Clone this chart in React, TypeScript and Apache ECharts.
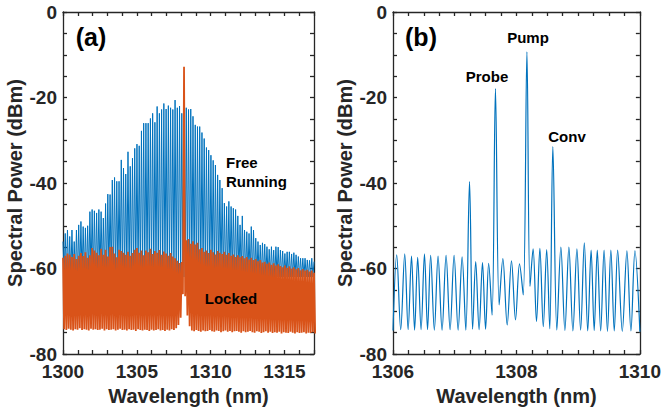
import React, { useEffect, useRef } from "react";
import * as echarts from "echarts";

// ---------- Panel (a): free running vs locked, 1300–1317 nm ----------
const A_X_MIN = 1300;
const A_X_MAX = 1317;
const A_START = 1300; // wavelength of first mode (nm)
const A_MODE_SPACING = 0.1518; // nm between plotted modes

// Free-running peak heights (dBm), one per mode
const freeRunningPeaks = [
  -53.7, -51.8, -51.0, -52.5, -51.0, -53.7, -51.0, -49.8, -49.0, -50.2, -50.5, -50.0,
  -46.7, -46.2, -46.5, -47.0, -46.2, -46.7, -48.2, -44.8, -42.6, -42.7, -39.3, -38.7,
  -39.6, -39.6, -34.6, -36.5, -37.9, -32.7, -36.1, -34.2, -31.9, -30.9, -31.3, -27.8, -26.0,
  -26.0, -26.0, -24.9, -23.7, -25.8, -22.1, -23.7, -22.8, -21.4, -22.7, -21.9, -22.4,
  -22.8, -20.6, -22.4, -22.0, -23.7, -22.7, -22.4, -22.8, -22.7, -24.4, -26.4, -26.8,
  -26.8, -28.2, -29.6, -31.7, -32.3, -33.5, -34.7, -35.8, -38.1, -39.3, -41.2, -44.7, -45.5, -44.3,
  -45.5, -45.9, -46.2, -47.7, -49.8, -47.7, -51.0, -51.4, -51.8, -50.2, -51.0, -52.9,
  -53.7, -54.5, -54.0, -54.3, -54.9, -55.5, -54.9, -55.7, -54.9, -55.0, -55.7, -55.9,
  -56.5, -56.1, -56.1, -56.6, -56.3, -56.8, -57.2, -57.6, -57.6, -57.6, -58.0, -58.1, -57.6, -58.4,
];
const FREE_RUNNING_FLOOR = -62; // hidden beneath the locked spectrum

// Locked spectrum: peak and trough per mode (dBm)
const lockedPeaks = [
  -57.5, -57.0, -56.5, -56.8, -57.3, -56.6, -57.8, -57.0, -56.4, -57.1, -56.2, -57.5, -56.9,
  -55.2, -55.8, -56.3, -56.9, -55.4, -56.8, -55.6, -57.2, -55.0, -54.9, -56.5, -57.4, -55.6,
  -55.9, -56.3, -56.8, -56.1, -57.0, -56.4, -55.6, -55.2, -56.3, -55.8, -56.9,
  -55.8, -56.2, -55.4, -56.6, -55.9, -56.3, -55.7, -56.8, -56.0, -56.5, -57.0, -56.4, -57.2,
  -57.6, -58.2, -58.7, -58.5,
  -12.8,
  -53.4, -53.1, -54.2, -53.6, -54.4, -54.0,
  -55.5, -55.2, -56.1, -55.8, -56.4, -55.6, -56.2, -56.7, -55.9, -56.3, -56.6, -56.1, -56.8,
  -56.4, -57.0, -56.7, -57.3, -56.9, -57.4, -57.1, -57.6, -57.3, -57.9, -57.5, -58.0,
  -57.8, -58.3, -58.0, -58.6, -58.4, -58.9, -58.6, -59.1, -58.8, -59.3, -59.0, -59.4, -59.7,
  -59.3, -59.8, -59.5, -60.0, -59.7, -60.2, -59.9, -60.4, -60.1, -60.5, -60.3, -60.7, -60.5, -61.0,
];
const lockedTroughs = [
  -74.2, -74.4, -74.1, -74.3, -74.5, -74.2, -74.3, -74.0, -74.4, -74.2,
  -74.3, -74.5, -74.1, -74.3, -74.2, -74.4, -74.3, -74.1, -74.5, -74.2,
  -74.4, -74.3, -74.2, -74.5, -74.3, -74.1, -74.4, -74.3, -74.5, -74.2,
  -74.4, -74.3, -74.6, -74.2, -74.4, -74.5, -74.3, -74.4, -74.6, -74.3,
  -74.5, -74.4, -74.2, -74.5, -74.4, -74.6, -74.3, -74.5, -74.2, -74.4,
  -74.0, -73.2, -71.5, -66.0, -66.5, -71.0, -73.5,
  -74.5, -74.7, -74.4, -74.6, -74.8, -74.5, -74.7, -74.6,
  -74.4, -74.7, -74.8, -74.5, -74.6, -74.9, -74.7, -74.5,
  -74.8, -74.6, -74.9, -74.7, -74.6, -74.8, -75.0, -74.7,
  -74.9, -74.8, -74.6, -74.9, -75.0, -74.7, -74.8, -75.1,
  -74.9, -74.7, -75.0, -74.8, -75.1, -74.9, -75.0, -74.8,
  -75.2, -74.9, -75.0, -75.1, -74.8, -75.0, -75.2, -74.9,
  -75.1, -75.0, -74.9, -75.2, -75.0, -75.1, -74.9, -75.2,
];

// ---------- Panel (b): four-wave mixing, 1306–1310 nm ----------
const B_X_MIN = 1306;
const B_X_MAX = 1310;
const fwmWavelengths = [
  1306.06, 1306.19, 1306.3, 1306.4, 1306.51, 1306.61, 1306.73, 1306.86, 1306.99, 1307.12,
  1307.24, 1307.34, 1307.45, 1307.55, 1307.66, 1307.78, 1307.92, 1308.05, 1308.17, 1308.27,
  1308.38, 1308.49, 1308.59, 1308.72, 1308.85, 1308.98, 1309.1, 1309.21, 1309.31, 1309.42,
  1309.53, 1309.64, 1309.79, 1309.92,
];
const fwmPeaks = [
  -56.8, -56.6, -57.1, -57.4, -56.6, -56.9, -57.1, -56.9, -56.9, -57.3,
  -39.7, -58.4, -58.6, -58.8, -17.9, -57.7, -58.2, -58.9, -9.3, -55.4,
  -55.3, -55.6, -31.5, -55.0, -55.0, -55.4, -54.0, -55.7, -55.7, -55.7,
  -55.7, -55.7, -55.9, -55.9,
];
const fwmTroughs = [
  -74.3, -74.3, -74.4, -74.3, -74.3, -74.4, -74.4, -74.3, -74.4, -74.4,
  -74.2, -74.3, -74.2, -70.9, -68.5, -73.2, -72.0, -66.2, -64.2, -72.4,
  -73.6, -74.1, -74.4, -74.5, -74.6, -74.4, -74.6, -74.5, -74.6, -74.7,
  -74.6, -74.7, -74.6,
];
const FWM_START = -74.5;
const FWM_END = -74.8;

const Y_MIN = -80;
const Y_MAX = 0;

const BLUE = "#0072BD";
const ORANGE = "#D95319";
const INK = "#262626";
const FONT = '"Liberation Sans", Arial, Helvetica, sans-serif';

function buildFreeRunning(): number[][] {
  const out: number[][] = [];
  freeRunningPeaks.forEach((p, i) => {
    const x = A_START + i * A_MODE_SPACING;
    out.push([x, p]);
    if (i < freeRunningPeaks.length - 1) out.push([x + A_MODE_SPACING / 2, FREE_RUNNING_FLOOR]);
  });
  return out;
}

function buildLocked(): number[][] {
  const out: number[][] = [];
  const n = Math.min(lockedPeaks.length, lockedTroughs.length);
  for (let i = 0; i < n; i++) {
    const x = A_START + i * A_MODE_SPACING;
    out.push([x, lockedPeaks[i]]);
    out.push([x + A_MODE_SPACING / 2, lockedTroughs[i]]);
  }
  return out;
}

function buildFwm(): number[][] {
  const out: number[][] = [[B_X_MIN, FWM_START]];
  fwmWavelengths.forEach((w, i) => {
    out.push([w, fwmPeaks[i]]);
    if (i < fwmWavelengths.length - 1) {
      out.push([(w + fwmWavelengths[i + 1]) / 2, fwmTroughs[i]]);
    }
  });
  out.push([B_X_MAX, FWM_END]);
  return out;
}

const near = (v: number, step: number) => Math.abs(v / step - Math.round(v / step)) < 1e-6;

function xAxes(grid: number, min: number, max: number, interval: number, labelStep: number) {
  const line = { show: true, lineStyle: { color: INK, width: 1.3 } };
  const tick = { show: true, inside: true, length: 4, lineStyle: { color: INK, width: 1.3 } };
  return [
    {
      type: "value",
      gridIndex: grid,
      position: "bottom",
      min,
      max,
      interval,
      axisLine: { ...line, onZero: false },
      axisTick: tick,
      splitLine: { show: false },
      axisLabel: {
        color: INK,
        fontSize: 19,
        fontWeight: "bold",
        fontFamily: FONT,
        margin: 8,
        showMinLabel: true,
        showMaxLabel: true,
        formatter: (v: number) => (near(v, labelStep) ? String(Math.round(v)) : ""),
      },
      name: "Wavelength (nm)",
      nameLocation: "middle",
      nameGap: 31,
      nameTextStyle: { color: INK, fontSize: 20, fontWeight: "bold", fontFamily: FONT },
    },
    {
      type: "value",
      gridIndex: grid,
      position: "top",
      min,
      max,
      interval,
      axisLine: { ...line, onZero: false },
      axisTick: tick,
      splitLine: { show: false },
      axisLabel: { show: false },
    },
  ];
}

function yAxes(grid: number) {
  const line = { show: true, lineStyle: { color: INK, width: 1.3 } };
  const tick = { show: true, inside: true, length: 4, lineStyle: { color: INK, width: 1.3 } };
  return [
    {
      type: "value",
      gridIndex: grid,
      position: "left",
      min: Y_MIN,
      max: Y_MAX,
      interval: 5,
      axisLine: { ...line, onZero: false },
      axisTick: tick,
      splitLine: { show: false },
      axisLabel: {
        color: INK,
        fontSize: 19,
        fontWeight: "bold",
        fontFamily: FONT,
        margin: 6,
        formatter: (v: number) => (near(v, 20) ? String(v) : ""),
      },
      name: "Spectral Power (dBm)",
      nameLocation: "middle",
      nameGap: 38,
      nameTextStyle: { color: INK, fontSize: 20, fontWeight: "bold", fontFamily: FONT },
    },
    {
      type: "value",
      gridIndex: grid,
      position: "right",
      min: Y_MIN,
      max: Y_MAX,
      interval: 5,
      axisLine: { ...line, onZero: false },
      axisTick: tick,
      splitLine: { show: false },
      axisLabel: { show: false },
    },
  ];
}

function label(text: string, x: number, y: number, size: number, align = "center") {
  return {
    type: "text",
    x,
    y,
    z: 100,
    style: {
      text,
      fill: "#000",
      font: `bold ${size}px ${FONT}`,
      align,
      verticalAlign: "middle",
    },
  };
}

export default function App() {
  const ref = useRef<HTMLDivElement>(null);

  useEffect(() => {
    if (!ref.current) return;
    const chart = echarts.init(ref.current, undefined, { renderer: "svg" });
    chart.setOption({
      animation: false,
      backgroundColor: "#fff",
      grid: [
        { left: 63, top: 12, width: 251, height: 342, containLabel: false },
        { left: 393, top: 12, width: 251, height: 342, containLabel: false },
      ],
      xAxis: [
        ...xAxes(0, A_X_MIN, A_X_MAX, 1, 5),
        ...xAxes(1, B_X_MIN, B_X_MAX, 0.25, 2),
      ],
      yAxis: [...yAxes(0), ...yAxes(1)],
      series: [
        {
          name: "Free Running",
          type: "line",
          xAxisIndex: 0,
          yAxisIndex: 0,
          data: buildFreeRunning(),
          showSymbol: false,
          symbol: "none",
          lineStyle: { color: BLUE, width: 1 },
          clip: true,
        },
        {
          name: "Locked",
          type: "line",
          xAxisIndex: 0,
          yAxisIndex: 0,
          data: buildLocked(),
          showSymbol: false,
          symbol: "none",
          lineStyle: { color: ORANGE, width: 1.8 },
          clip: true,
        },
        {
          name: "FWM",
          type: "line",
          xAxisIndex: 2,
          yAxisIndex: 2,
          data: buildFwm(),
          showSymbol: false,
          symbol: "none",
          smooth: 0.35,
          lineStyle: { color: BLUE, width: 1.2 },
          clip: true,
        },
      ],
      graphic: [
        label("(a)", 91, 37, 25),
        label("Free", 226, 162, 15, "left"),
        label("Running", 226, 181, 15, "left"),
        label("Locked", 231, 298, 15),
        label("(b)", 421, 37, 25),
        label("Pump", 528, 37, 15),
        label("Probe", 487, 76, 15),
        label("Conv", 567, 136, 15),
      ],
    });
    return () => chart.dispose();
  }, []);

  return (
    <div
      ref={ref}
      style={{ position: "fixed", left: 0, top: 0, width: 664, height: 414, background: "#fff" }}
    />
  );
}
